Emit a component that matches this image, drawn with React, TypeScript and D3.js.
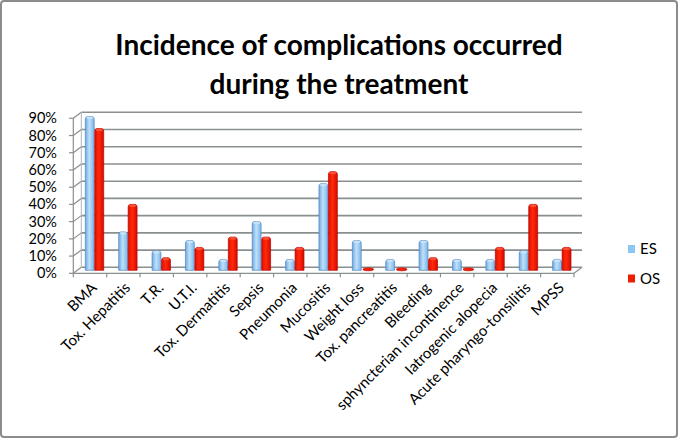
import React from "react";
import * as d3 from "d3";

const categories = [
  "BMA",
  "Tox. Hepatitis",
  "T.R.",
  "U.T.I.",
  "Tox. Dermatitis",
  "Sepsis",
  "Pneumonia",
  "Mucositis",
  "Weight loss",
  "Tox. pancreatitis",
  "Bleeding",
  "sphyncterian incontinence",
  "Iatrogenic alopecia",
  "Acute pharyngo-tonsilitis",
  "MPSS",
];
const seriesNames = ["ES", "OS"];
const esValues = [0.89, 0.22, 0.11, 0.17, 0.06, 0.28, 0.06, 0.5, 0.17, 0.06, 0.17, 0.06, 0.06, 0.11, 0.06];
const osValues = [0.82, 0.38, 0.07, 0.13, 0.19, 0.19, 0.13, 0.57, 0, 0, 0.07, 0, 0.13, 0.38, 0.13];
const yTicks = [0, 0.1, 0.2, 0.3, 0.4, 0.5, 0.6, 0.7, 0.8, 0.9];

const W = 678;
const H = 439;
const DX = 8;
const DY = -6;
const FONT = "Lato, 'Open Sans', sans-serif";

export default function App() {
  const x = d3.scaleBand<string>().domain(categories).range([73.3, 574]);
  const yFront = d3.scaleLinear().domain([0, 0.9]).range([273.3, 118.3]);
  const inner = d3.scaleBand<string>().domain(seriesNames).range([-9.5, 9.5]);
  const fmt = d3.format(".0%");
  const series = [
    { name: "ES", values: esValues, grad: "gES", stroke: "#4f86c0", top: "#cfe7fb", legend: "#8cc6f2" },
    { name: "OS", values: osValues, grad: "gOS", stroke: "#b80000", top: "#ff5a40", legend: "#ee1c00" },
  ];
  const midDX = DX / 2 + 0.5;
  const midDY = DY / 2;

  return (
    <svg
      width={W}
      height={H}
      style={{ position: "absolute", left: 0, top: 0, background: "#fff" }}
      xmlns="http://www.w3.org/2000/svg"
    >
      <defs>
        <linearGradient id="gES" x1="0" x2="1" y1="0" y2="0">
          <stop offset="0" stopColor="#6ea9e2" />
          <stop offset="0.45" stopColor="#bfe0fa" />
          <stop offset="1" stopColor="#7bb5e9" />
        </linearGradient>
        <linearGradient id="gOS" x1="0" x2="1" y1="0" y2="0">
          <stop offset="0" stopColor="#e01000" />
          <stop offset="0.45" stopColor="#ff2a0a" />
          <stop offset="1" stopColor="#d80a00" />
        </linearGradient>
      </defs>
      <rect x={1} y={1} width={W - 2} height={H - 3} fill="#fff" stroke="#8c8c8c" strokeWidth={2} rx={3} />
      <text x={339} y={55} textAnchor="middle" fontFamily={FONT} fontWeight={700} fontSize={28} fill="#000">
        Incidence of complications occurred
      </text>
      <text x={339} y={94} textAnchor="middle" fontFamily={FONT} fontWeight={700} fontSize={28} fill="#000">
        during the treatment
      </text>

      {/* back wall gridlines */}
      {yTicks.map((t) => (
        <g key={"g" + t}>
          <line
            x1={73.3 + DX}
            x2={574 + DX}
            y1={yFront(t) + DY}
            y2={yFront(t) + DY}
            stroke="#8a8f8f"
            strokeWidth={1.6}
          />
          <line x1={73.3} x2={73.3 + DX} y1={yFront(t)} y2={yFront(t) + DY} stroke="#8a8f8f" strokeWidth={1.2} />
          <line x1={69} x2={73.3} y1={yFront(t)} y2={yFront(t)} stroke="#8a8f8f" strokeWidth={1.2} />
          <text
            x={57}
            y={yFront(t)}
            dy="0.35em"
            textAnchor="end"
            fontFamily={FONT}
            fontSize={14.5}
            fill="#000"
          >
            {fmt(t)}
          </text>
        </g>
      ))}
      {/* axis lines */}
      <line x1={73.3} x2={73.3} y1={yFront(0.9)} y2={yFront(0)} stroke="#8a8f8f" strokeWidth={1.2} />
      <line x1={73.3 + DX} x2={73.3 + DX} y1={yFront(0.9) + DY} y2={yFront(0) + DY} stroke="#b0b4b4" strokeWidth={1} />
      <line x1={73.3} x2={574} y1={yFront(0)} y2={yFront(0)} stroke="#8a8f8f" strokeWidth={1.2} />
      <line x1={574} x2={574 + DX} y1={yFront(0)} y2={yFront(0) + DY} stroke="#8a8f8f" strokeWidth={1.2} />
      {categories.map((c, i) => (
        <line
          key={"t" + i}
          x1={x(c)!}
          x2={x(c)!}
          y1={yFront(0)}
          y2={yFront(0) + 4}
          stroke="#8a8f8f"
          strokeWidth={1.2}
        />
      ))}
      <line x1={574} x2={574} y1={yFront(0)} y2={yFront(0) + 4} stroke="#8a8f8f" strokeWidth={1.2} />

      {/* bars */}
      {categories.map((c, i) => {
        const cx = x(c)! + x.bandwidth() / 2 + midDX;
        return (
          <g key={"b" + i}>
            {series.map((s) => {
              const v = s.values[i];
              const x0 = cx + inner(s.name)! + 0.3;
              const w = inner.bandwidth() - 0.6;
              const y0 = yFront(0) + midDY;
              if (v === 0) {
                return (
                  <ellipse
                    key={s.name}
                    cx={x0 + w / 2 + 2}
                    cy={y0 - 1}
                    rx={w / 2 + 1}
                    ry={1.6}
                    fill={`url(#${s.grad})`}
                    stroke={s.stroke}
                    strokeWidth={0.5}
                  />
                );
              }
              const yt = yFront(v) + midDY;
              const r = 2;
              const path = `M${x0},${y0} L${x0},${yt + r} Q${x0},${yt} ${x0 + r},${yt - 0.5} L${x0 + w - r},${yt - 0.5} Q${x0 + w},${yt} ${x0 + w},${yt + r} L${x0 + w},${y0} Z`;
              return (
                <g key={s.name}>
                  <path d={path} fill={`url(#${s.grad})`} stroke={s.stroke} strokeWidth={0.7} />
                  <ellipse cx={x0 + w / 2} cy={yt + 0.8} rx={w / 2 - 1} ry={1.3} fill={s.top} opacity={0.8} />
                </g>
              );
            })}
          </g>
        );
      })}

      {/* x labels */}
      {categories.map((c, i) => {
        const lx = x(c)! + x.bandwidth() / 2 + 4;
        const ly = 285;
        return (
          <text
            key={"l" + i}
            transform={`translate(${lx},${ly}) rotate(-45)`}
            textAnchor="end"
            dy="0.35em"
            fontFamily={FONT}
            fontSize={15}
            fill="#000"
          >
            {c}
          </text>
        );
      })}

      {/* legend */}
      {series.map((s, i) => (
        <g key={"lg" + i} transform={`translate(628,${249 + i * 29.5})`}>
          <rect x={0} y={-4} width={7} height={8} fill={s.legend} />
          <text x={12} y={0} dy="0.35em" fontFamily={FONT} fontSize={15} fill="#000">
            {s.name}
          </text>
        </g>
      ))}
    </svg>
  );
}
